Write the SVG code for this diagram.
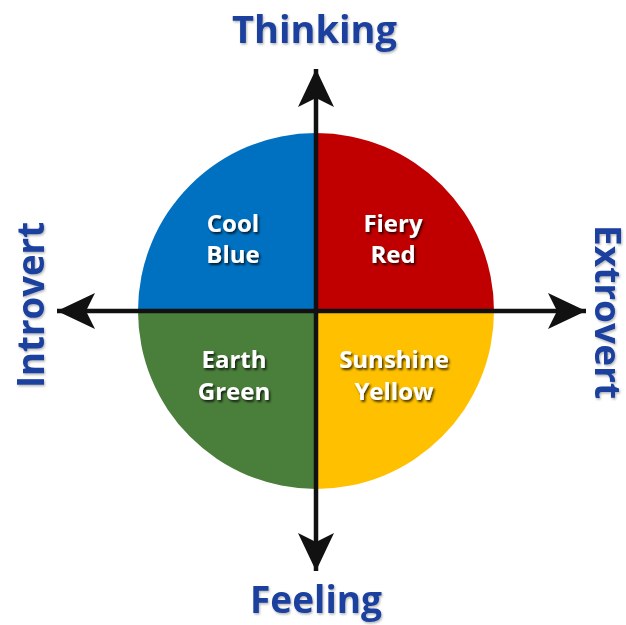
<svg xmlns="http://www.w3.org/2000/svg" width="626" height="625" viewBox="0 0 626 625">
  <defs>
    <filter id="shadow" x="-20%" y="-20%" width="140%" height="160%">
      <feDropShadow dx="1.5" dy="2" stdDeviation="1.2" flood-color="#000" flood-opacity="0.75"/>
    </filter>
    <filter id="soft" x="-10%" y="-10%" width="120%" height="140%">
      <feDropShadow dx="1" dy="1.5" stdDeviation="1" flood-color="#000" flood-opacity="0.3"/>
    </filter>
    <marker id="arrow" viewBox="0 0 40 40" refX="38" refY="20" markerWidth="40" markerHeight="40" markerUnits="userSpaceOnUse" orient="auto">
      <path d="M38,20 L0,2 L9,20 L0,38 Z" fill="#111"/>
    </marker>
  </defs>
  <style>
    .axis-label { font-family: "Open Sans", "Liberation Sans", sans-serif; font-weight: bold; fill: #1b3f9e; font-size: 37px; }
    .quad-label { font-family: "Open Sans", "Liberation Sans", sans-serif; font-weight: bold; fill: #ffffff; font-size: 24px; text-anchor: middle; }
    .axis { stroke: #111; stroke-width: 4.5; fill: none; }
  </style>
  <rect width="626" height="625" fill="#ffffff"/>

  <g id="quadrant-blue">
    <path d="M316,311 L138,311 A178,178 0 0 1 316,133 Z" fill="#0070c0"/>
    <g filter="url(#shadow)">
      <text class="quad-label" x="233" y="232">Cool</text>
      <text class="quad-label" x="233" y="263">Blue</text>
    </g>
  </g>
  <g id="quadrant-red">
    <path d="M316,311 L316,133 A178,178 0 0 1 494,311 Z" fill="#c00000"/>
    <g filter="url(#shadow)">
      <text class="quad-label" x="393" y="232">Fiery</text>
      <text class="quad-label" x="393" y="263">Red</text>
    </g>
  </g>
  <g id="quadrant-green">
    <path d="M316,311 L316,489 A178,178 0 0 1 138,311 Z" fill="#4a7e3b"/>
    <g filter="url(#shadow)">
      <text class="quad-label" x="234" y="368">Earth</text>
      <text class="quad-label" x="234" y="400">Green</text>
    </g>
  </g>
  <g id="quadrant-yellow">
    <path d="M316,311 L494,311 A178,178 0 0 1 316,489 Z" fill="#ffc000"/>
    <g filter="url(#shadow)">
      <text class="quad-label" x="394" y="368">Sunshine</text>
      <text class="quad-label" x="394" y="400">Yellow</text>
    </g>
  </g>

  <g id="connectors">
    <line class="axis" x1="316" y1="311" x2="316" y2="69" marker-end="url(#arrow)"/>
    <line class="axis" x1="316" y1="311" x2="316" y2="571" marker-end="url(#arrow)"/>
    <line class="axis" x1="316" y1="311" x2="57" y2="311" marker-end="url(#arrow)"/>
    <line class="axis" x1="316" y1="311" x2="586" y2="311" marker-end="url(#arrow)"/>
  </g>

  <g id="label-thinking" filter="url(#soft)">
    <text class="axis-label" x="232" y="43" textLength="165" lengthAdjust="spacingAndGlyphs">Thinking</text>
  </g>
  <g id="label-feeling" filter="url(#soft)">
    <text class="axis-label" x="250" y="613" textLength="132" lengthAdjust="spacingAndGlyphs">Feeling</text>
  </g>
  <g id="label-introvert" filter="url(#soft)">
    <text class="axis-label" transform="translate(44,388) rotate(-90)" x="0" y="0" textLength="166" lengthAdjust="spacingAndGlyphs">Introvert</text>
  </g>
  <g id="label-extrovert" filter="url(#soft)">
    <text class="axis-label" transform="translate(595,225) rotate(90)" x="0" y="0" font-size="35" textLength="174" lengthAdjust="spacingAndGlyphs" style="font-size:35px">Extrovert</text>
  </g>
</svg>
